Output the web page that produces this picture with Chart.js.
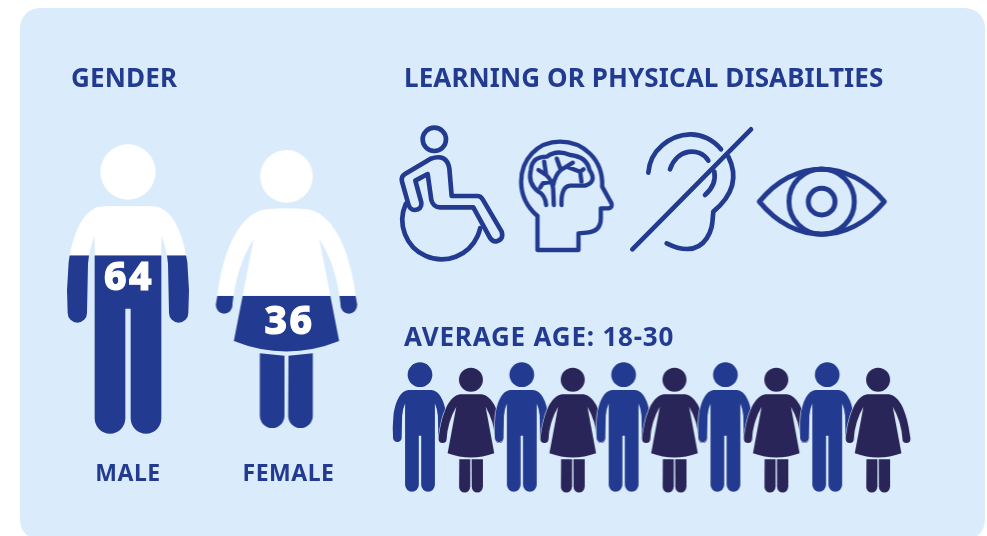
<!DOCTYPE html>
<html>
<head>
<meta charset="utf-8">
<title>Gender, disabilities and age</title>
<script src="https://cdn.jsdelivr.net/npm/chart.js@4/dist/chart.umd.min.js"></script>
<style>
  html, body { margin: 0; padding: 0; background: #fff; overflow: hidden; }
  #stage { position: relative; width: 987px; height: 536px; overflow: hidden; }
  #panel { position: absolute; left: 20px; top: 8px; width: 965px; height: 532px; background: #daecfb; border-radius: 20px; }
  #chart { position: absolute; left: 0; top: 0; }
</style>
</head>
<body>
<div id="stage">
  <div id="panel"></div>
  <canvas id="chart" width="987" height="536"></canvas>
</div>
<script>
// data
const genderCategories = ['MALE', 'FEMALE'];
const genderValues = [64, 36];
const genderFillHeights = [61.6, 47.5]; // % of figure height painted blue
const disabilityIcons = ['wheelchair', 'brain', 'ear', 'eye'];
const crowdPeople = ['male', 'female', 'male', 'female', 'male', 'female', 'male', 'female', 'male', 'female'];
const headings = ['GENDER', 'LEARNING OR PHYSICAL DISABILTIES', 'AVERAGE AGE: 18-30'];

const BLUE = '#223a8f';
const NAVY = '#2a2558';
const PANEL = '#daecfb';
const WIDTH = 987, HEIGHT = 536;

// rows on the y scale, which runs in page pixels
const ICON_ROW = 192, GENDER_ROW = 289, CROWD_ROW = 427;

function makeIcon(w, h, draw) {
  const c = document.createElement('canvas');
  c.width = w;
  c.height = h;
  const ctx = c.getContext('2d');
  ctx.lineCap = 'round';
  ctx.lineJoin = 'round';
  draw(ctx);
  return c;
}

// the figures are traced around their centre line, in 3x crop units
function traceMale(ctx) {
  ctx.beginPath();
  ctx.arc(0, 125, 83, 0, Math.PI * 2);
  ctx.closePath();
  ctx.moveTo(-75, 228);
  ctx.lineTo(75, 228);
  ctx.bezierCurveTo(135, 232, 165, 310, 178, 395);
  ctx.lineTo(183, 480);
  ctx.lineTo(181, 548);
  ctx.arc(152, 548, 29, 0, Math.PI);
  ctx.lineTo(120, 400);
  ctx.quadraticCurveTo(115, 350, 100, 318);
  ctx.lineTo(100, 864);
  ctx.arc(54, 864, 46, 0, Math.PI);
  ctx.lineTo(8, 535);
  ctx.lineTo(-8, 535);
  ctx.lineTo(-8, 864);
  ctx.arc(-54, 864, 46, 0, Math.PI);
  ctx.lineTo(-100, 318);
  ctx.quadraticCurveTo(-115, 350, -120, 400);
  ctx.lineTo(-123, 548);
  ctx.arc(-152, 548, 29, 0, Math.PI);
  ctx.lineTo(-183, 480);
  ctx.lineTo(-178, 395);
  ctx.bezierCurveTo(-165, 310, -135, 232, -75, 228);
  ctx.closePath();
}

function traceFemale(ctx) {
  ctx.beginPath();
  ctx.arc(0, 138, 79, 0, Math.PI * 2);
  ctx.closePath();
  ctx.moveTo(-60, 237);
  ctx.quadraticCurveTo(0, 231, 60, 237);
  ctx.bezierCurveTo(135, 245, 190, 350, 208, 500);
  ctx.lineTo(212, 522);
  ctx.arc(187, 525, 25, 0, Math.PI);
  ctx.lineTo(162, 520);
  ctx.quadraticCurveTo(150, 405, 98, 325);
  ctx.lineTo(158, 632);
  ctx.quadraticCurveTo(0, 695, -158, 632);
  ctx.lineTo(-98, 325);
  ctx.quadraticCurveTo(-150, 405, -162, 520);
  ctx.arc(-187, 525, 25, 0, Math.PI);
  ctx.lineTo(-212, 522);
  ctx.lineTo(-208, 500);
  ctx.bezierCurveTo(-190, 350, -135, 245, -60, 237);
  ctx.closePath();
  // legs
  ctx.moveTo(-80, 669);
  ctx.lineTo(-6, 676);
  ctx.lineTo(-6, 856);
  ctx.arc(-43, 856, 37, 0, Math.PI);
  ctx.closePath();
  ctx.moveTo(6, 676);
  ctx.lineTo(79, 669);
  ctx.lineTo(79, 856);
  ctx.arc(42, 856, 37, 0, Math.PI);
  ctx.closePath();
}

// crowd women keep their arms closer in than the big one
function traceSmallFemale(ctx) {
  ctx.beginPath();
  ctx.arc(0, 74, 36, 0, Math.PI * 2);
  ctx.closePath();
  ctx.moveTo(-32, 118);
  ctx.lineTo(32, 118);
  ctx.bezierCurveTo(66, 122, 88, 175, 97, 250);
  ctx.arc(85, 252, 12, 0, Math.PI);
  ctx.quadraticCurveTo(70, 200, 44, 155);
  ctx.lineTo(70, 295);
  ctx.quadraticCurveTo(0, 320, -70, 295);
  ctx.lineTo(-44, 155);
  ctx.quadraticCurveTo(-70, 200, -73, 252);
  ctx.arc(-85, 252, 12, 0, Math.PI);
  ctx.lineTo(-97, 250);
  ctx.bezierCurveTo(-88, 175, -66, 122, -32, 118);
  ctx.closePath();
  ctx.moveTo(-35, 313);
  ctx.lineTo(-2, 313);
  ctx.lineTo(-2, 396);
  ctx.arc(-19, 396, 16.5, 0, Math.PI);
  ctx.closePath();
  ctx.moveTo(2, 313);
  ctx.lineTo(36, 313);
  ctx.lineTo(36, 396);
  ctx.arc(19, 396, 16.5, 0, Math.PI);
  ctx.closePath();
}

function genderFigure(trace, fillHeight, top, bottom) {
  return makeIcon(170, 300, ctx => {
    ctx.translate(85, 150);
    ctx.scale(1 / 3, 1 / 3);
    ctx.translate(0, -(top + bottom) / 2);
    trace(ctx);
    ctx.fillStyle = '#fff';
    ctx.fill();
    ctx.globalCompositeOperation = 'source-atop';
    ctx.fillStyle = BLUE;
    const edge = bottom - (bottom - top) * fillHeight / 100;
    ctx.fillRect(-300, edge, 600, bottom - edge + 20);
  });
}

function crowdFigure(kind) {
  return makeIcon(80, 140, ctx => {
    ctx.translate(40, 70);
    if (kind === 'male') {
      ctx.scale(0.149, 0.149);
      ctx.translate(0, -476);
      traceMale(ctx);
      ctx.strokeStyle = PANEL;
      ctx.lineWidth = 9;
    } else {
      ctx.scale(1 / 3, 1 / 3);
      ctx.translate(0, -216);
      traceSmallFemale(ctx);
      ctx.strokeStyle = PANEL;
      ctx.lineWidth = 4;
    }
    ctx.stroke();
    ctx.fillStyle = kind === 'male' ? BLUE : NAVY;
    ctx.fill();
  });
}

const lineIcons = {
  wheelchair: ctx => {
    ctx.beginPath();
    ctx.arc(133, 58, 35, 0, Math.PI * 2);
    ctx.stroke();
    ctx.beginPath();
    ctx.moveTo(113, 162);
    ctx.lineTo(76, 182);
    ctx.lineTo(94, 248);
    ctx.quadraticCurveTo(96, 268, 74, 270);
    ctx.quadraticCurveTo(60, 270, 55, 252);
    ctx.lineTo(36, 185);
    ctx.quadraticCurveTo(32, 170, 45, 162);
    ctx.lineTo(122, 116);
    ctx.quadraticCurveTo(170, 100, 178, 145);
    ctx.lineTo(185, 228);
    ctx.lineTo(262, 228);
    ctx.quadraticCurveTo(272, 228, 278, 238);
    ctx.lineTo(335, 335);
    ctx.quadraticCurveTo(342, 358, 320, 364);
    ctx.quadraticCurveTo(306, 366, 298, 350);
    ctx.lineTo(250, 262);
    ctx.lineTo(150, 262);
    ctx.quadraticCurveTo(130, 262, 124, 240);
    ctx.closePath();
    ctx.moveTo(113, 162);
    ctx.stroke();
    ctx.beginPath();
    ctx.arc(155, 300, 118, (204 * Math.PI) / 180, (12 * Math.PI) / 180, true);
    ctx.stroke();
  },
  brain: ctx => {
    ctx.beginPath();
    ctx.moveTo(442, 288);
    ctx.lineTo(442, 390);
    ctx.lineTo(565, 390);
    ctx.lineTo(565, 340);
    ctx.lineTo(590, 338);
    ctx.quadraticCurveTo(632, 335, 632, 295);
    ctx.lineTo(632, 265);
    ctx.lineTo(655, 265);
    ctx.quadraticCurveTo(668, 262, 664, 250);
    ctx.lineTo(636, 200);
    ctx.bezierCurveTo(640, 115, 575, 65, 510, 65);
    ctx.bezierCurveTo(440, 65, 393, 120, 393, 185);
    ctx.bezierCurveTo(393, 225, 412, 262, 442, 288);
    ctx.stroke();
    ctx.beginPath();
    ctx.moveTo(468, 255);
    ctx.quadraticCurveTo(465, 225, 445, 215);
    ctx.quadraticCurveTo(412, 190, 422, 150);
    ctx.quadraticCurveTo(425, 110, 470, 110);
    ctx.quadraticCurveTo(500, 88, 540, 105);
    ctx.quadraticCurveTo(590, 110, 598, 150);
    ctx.quadraticCurveTo(622, 185, 585, 197);
    ctx.lineTo(540, 197);
    ctx.quadraticCurveTo(512, 200, 514, 255);
    ctx.stroke();
    ctx.beginPath();
    ctx.moveTo(491, 255);
    ctx.lineTo(489, 205);
    ctx.quadraticCurveTo(485, 180, 468, 165);
    ctx.lineTo(462, 125);
    ctx.moveTo(468, 165);
    ctx.lineTo(445, 150);
    ctx.moveTo(484, 185);
    ctx.lineTo(458, 190);
    ctx.lineTo(450, 203);
    ctx.moveTo(489, 195);
    ctx.quadraticCurveTo(495, 165, 512, 150);
    ctx.lineTo(500, 116);
    ctx.moveTo(512, 150);
    ctx.lineTo(548, 128);
    ctx.moveTo(530, 140);
    ctx.lineTo(570, 155);
    ctx.lineTo(574, 185);
    ctx.moveTo(570, 155);
    ctx.lineTo(580, 148);
    ctx.stroke();
  },
  ear: ctx => {
    ctx.beginPath();
    ctx.moveTo(22, 388);
    ctx.lineTo(378, 28);
    ctx.stroke();
    ctx.beginPath();
    ctx.moveTo(70, 158);
    ctx.bezierCurveTo(75, 90, 135, 45, 195, 43);
    ctx.bezierCurveTo(230, 42, 265, 60, 288, 88);
    ctx.stroke();
    ctx.beginPath();
    ctx.moveTo(310, 110);
    ctx.bezierCurveTo(340, 170, 325, 225, 265, 275);
    ctx.bezierCurveTo(262, 300, 265, 325, 245, 355);
    ctx.bezierCurveTo(215, 400, 165, 390, 125, 370);
    ctx.stroke();
    ctx.beginPath();
    ctx.moveTo(135, 148);
    ctx.bezierCurveTo(155, 85, 225, 80, 250, 122);
    ctx.stroke();
    ctx.beginPath();
    ctx.moveTo(268, 155);
    ctx.quadraticCurveTo(275, 195, 240, 225);
    ctx.stroke();
  },
  eye: ctx => {
    ctx.beginPath();
    ctx.moveTo(403, 245);
    ctx.bezierCurveTo(510, 115, 670, 115, 778, 245);
    ctx.bezierCurveTo(670, 375, 510, 375, 403, 245);
    ctx.closePath();
    ctx.stroke();
    ctx.beginPath();
    ctx.arc(590, 245, 98, 0, Math.PI * 2);
    ctx.stroke();
    ctx.beginPath();
    ctx.arc(590, 245, 40, 0, Math.PI * 2);
    ctx.stroke();
  }
};

// crop units of each icon's scale position, and its line width
const iconCentres = { wheelchair: [186, 216, 14], brain: [556, 216, 13], ear: [222, 216, 14], eye: [592.5, 216, 15] };

function lineIcon(name) {
  const [cx, cy, lw] = iconCentres[name];
  return makeIcon(150, 160, ctx => {
    ctx.translate(75, 80);
    ctx.scale(1 / 3, 1 / 3);
    ctx.translate(-cx, -cy);
    ctx.strokeStyle = BLUE;
    ctx.lineWidth = lw;
    lineIcons[name](ctx);
  });
}

// hidden axis that puts index 0 at `origin` page pixels, one step per index
function indexAxis(origin, step) {
  return { type: 'linear', display: false, min: -origin / step, max: (WIDTH - origin) / step };
}

const genderFigures = [
  genderFigure(traceMale, genderFillHeights[0], 42, 910),
  genderFigure(traceFemale, genderFillHeights[1], 59, 893)
];

const textPlugin = {
  id: 'textPlugin',
  afterDatasetsDraw(chart) {
    const { ctx, scales } = chart;
    const put = (text, x, y, font, color, spacing) => {
      ctx.font = font;
      ctx.fillStyle = color;
      ctx.letterSpacing = spacing + 'px';
      ctx.textBaseline = 'alphabetic';
      ctx.fillText(text, x, y);
    };
    ctx.save();
    const headFont = '700 26px "Noto Sans"';
    ctx.textAlign = 'left';
    put(headings[0], 71, 87, headFont, BLUE, 0.2);
    put(headings[1], 404, 87, headFont, BLUE, 0.1);
    put(headings[2], 404, 346, headFont, BLUE, 0.8);
    ctx.textAlign = 'center';
    genderCategories.forEach((name, i) => {
      const x = scales.xGender.getPixelForValue(i) + (i ? 2 : 0);
      put(name, x, 481, '700 23px "Noto Sans"', BLUE, 0.5);
    });
    const valueRows = [290, 334];
    genderValues.forEach((v, i) => {
      const x = scales.xGender.getPixelForValue(i) + (i ? 3 : 1);
      put(String(v), x, valueRows[i], '800 39px "Noto Sans"', '#fff', 2.4);
      ctx.strokeStyle = '#fff';
      ctx.lineWidth = 1.2;
      ctx.strokeText(String(v), x, valueRows[i]);
    });
    ctx.restore();
  }
};

new Chart(document.getElementById('chart'), {
  type: 'scatter',
  data: {
    datasets: [
      {
        label: 'Gender',
        xAxisID: 'xGender',
        data: genderCategories.map((c, i) => ({ x: i, y: GENDER_ROW })),
        pointStyle: genderFigures,
        pointRadius: 1
      },
      {
        label: 'Disabilities',
        xAxisID: 'xIcons',
        data: disabilityIcons.map((c, i) => ({ x: i, y: ICON_ROW })),
        pointStyle: disabilityIcons.map(lineIcon),
        pointRadius: 1
      },
      {
        label: 'Average age',
        xAxisID: 'xCrowd',
        data: crowdPeople.map((c, i) => ({ x: i, y: CROWD_ROW })),
        pointStyle: crowdPeople.map(crowdFigure),
        pointRadius: 1
      }
    ]
  },
  options: {
    responsive: false,
    animation: false,
    events: [],
    layout: { padding: 0, autoPadding: false },
    plugins: { legend: { display: false }, tooltip: { enabled: false } },
    scales: {
      xGender: indexAxis(128, 158.5),
      xIcons: indexAxis(452, 123.5),
      xCrowd: indexAxis(420, 50.9),
      y: { type: 'linear', display: false, reverse: true, min: 0, max: HEIGHT }
    }
  },
  plugins: [textPlugin]
});
</script>
</body>
</html>
